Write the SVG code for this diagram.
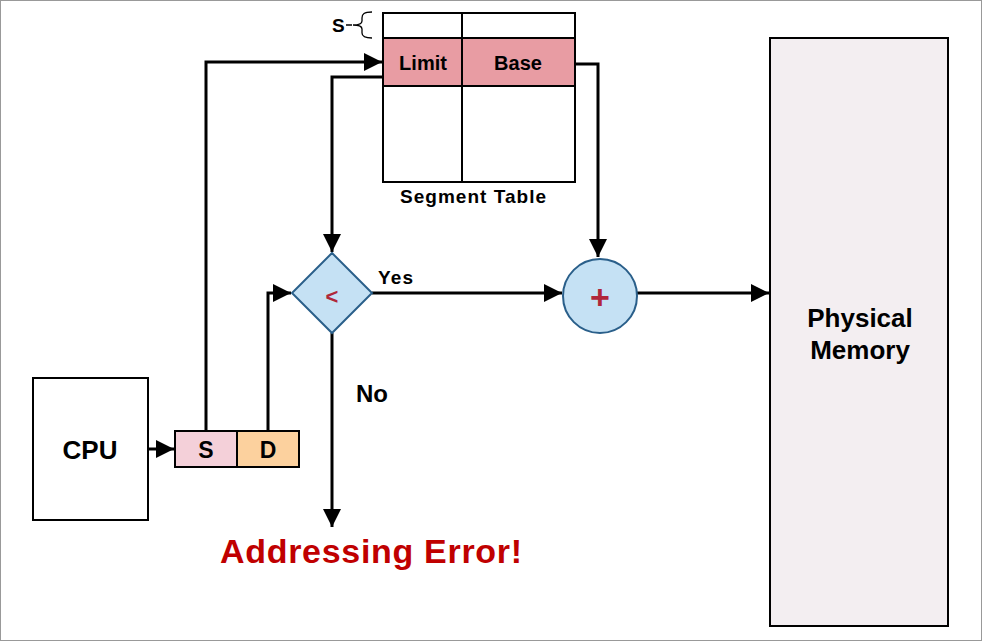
<svg xmlns="http://www.w3.org/2000/svg" width="982" height="641" viewBox="0 0 982 641">
<style>
text{font-family:"Liberation Sans",Arial,sans-serif;font-weight:bold;fill:#000}
.ln{fill:none;stroke:#000;stroke-width:3}
.bx{stroke:#000;stroke-width:2}
</style>
<defs>
<marker id="a" viewBox="0 0 10 10" markerWidth="18" markerHeight="18" refX="10" refY="5" orient="auto" markerUnits="userSpaceOnUse"><path d="M0,0L10,5L0,10z" fill="#000"/></marker></defs>
<rect x="0.5" y="0.5" width="981" height="640" fill="#fff" stroke="#999"/>
<g id="connectors">
<path class="ln" d="M206,431V62H382" marker-end="url(#a)"/>
<path class="ln" d="M383,77H332V252" marker-end="url(#a)"/>
<path class="ln" d="M575,64H598V257" marker-end="url(#a)"/>
<path class="ln" d="M268,431V293H291" marker-end="url(#a)"/>
<path class="ln" d="M372,293H562" marker-end="url(#a)"/>
<path class="ln" d="M637,293H769" marker-end="url(#a)"/>
<path class="ln" d="M148,449H174" marker-end="url(#a)"/>
<path class="ln" d="M332,333V527" marker-end="url(#a)"/>
<text x="378" y="284" font-size="19" textLength="35">Yes</text>
<text x="372" y="402" font-size="24" text-anchor="middle">No</text>
</g>
<g id="table">
<rect x="383" y="13" width="192" height="169" fill="#fff" class="bx"/>
<rect x="383" y="38" width="192" height="48" fill="#e89ca3" class="bx"/>
<line x1="462" y1="13" x2="462" y2="182" class="bx"/>
<text x="423" y="70" font-size="20" text-anchor="middle">Limit</text>
<text x="518" y="70" font-size="20" text-anchor="middle">Base</text>
<text x="400" y="203" font-size="19" textLength="146">Segment Table</text>
<text x="332" y="32" font-size="19">S</text>
<path d="M346,25H352M372,12C364,12 362,14 362,18V21C362,24 358,25 353,25C358,25 362,26 362,29V33C362,36 364,38 372,38" fill="none" stroke="#000" stroke-width="1.3"/>
</g>
<g id="compare">
<path d="M332,253L372,293L332,333L292,293Z" fill="#c5e1f4" stroke="#2a5f8a" stroke-width="2"/>
<text x="332" y="304" font-size="22" style="fill:#b0273a" text-anchor="middle">&lt;</text>
</g>
<g id="adder">
<circle cx="600" cy="296" r="37" fill="#c5e1f4" stroke="#2a5f8a" stroke-width="2"/>
<text x="600" y="309" font-size="34" style="fill:#b0273a" text-anchor="middle">+</text>
</g>
<g id="memory">
<rect x="770" y="38" width="178" height="588" fill="#f3eef1" class="bx"/>
<text x="860" y="327" font-size="26" text-anchor="middle">Physical</text>
<text x="860" y="359" font-size="26" text-anchor="middle">Memory</text>
</g>
<g id="cpu">
<rect x="33" y="378" width="115" height="142" fill="#fff" class="bx"/>
<text x="90" y="459" font-size="26" text-anchor="middle">CPU</text>
</g>
<g id="addr">
<rect x="175" y="431" width="62" height="36" fill="#f4d0d9" class="bx"/>
<rect x="237" y="431" width="62" height="36" fill="#fcd19e" class="bx"/>
<text x="206" y="458" font-size="23" text-anchor="middle">S</text>
<text x="268" y="458" font-size="23" text-anchor="middle">D</text>
</g>
<g id="error"><text x="220" y="563" font-size="34" textLength="302" style="fill:#c00000">Addressing Error!</text></g>
</svg>
